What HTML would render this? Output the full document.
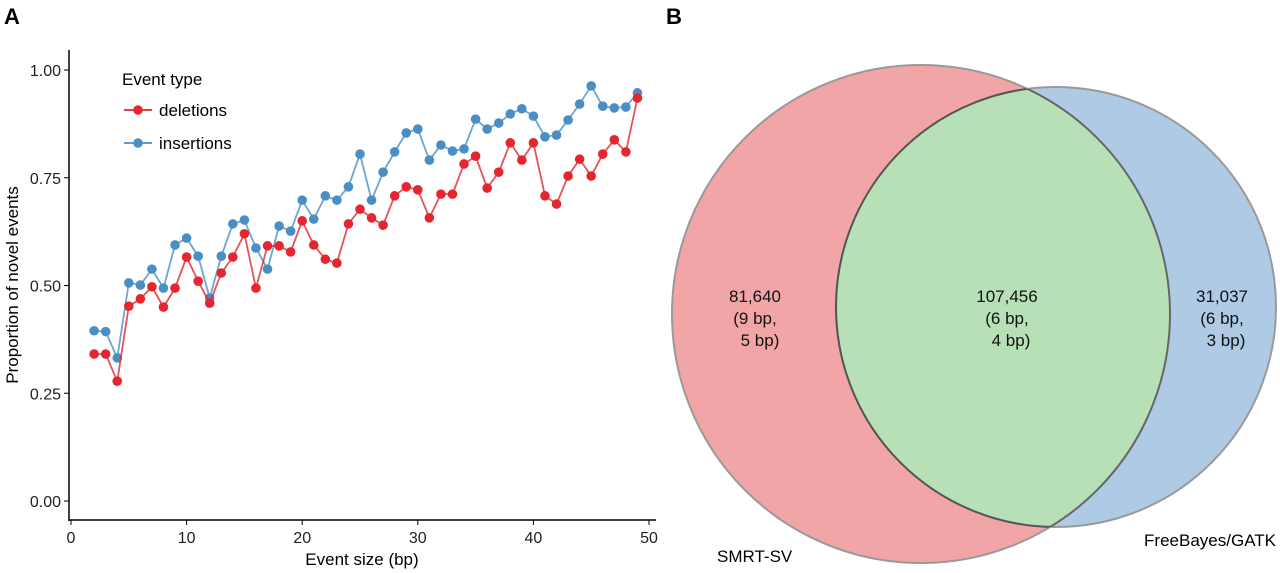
<!DOCTYPE html>
<html><head><meta charset="utf-8"><style>
body{margin:0;background:#fff;}
svg{display:block;font-family:"Liberation Sans",sans-serif;}
</style></head><body>
<svg width="1280" height="573" viewBox="0 0 1280 573">
<text x="4" y="24" font-size="22" font-weight="bold">A</text>
<text x="666" y="24" font-size="22" font-weight="bold">B</text>
<g id="chart"></g>
<g>
<defs><clipPath id="blueclip"><circle cx="1056" cy="307" r="220"/></clipPath>
<clipPath id="redclip"><circle cx="921" cy="314" r="249"/></clipPath></defs>
<circle cx="921" cy="314" r="249" fill="#f2a5a7" stroke="#999" stroke-width="2"/>
<circle cx="1056" cy="307" r="220" fill="#aecae5" stroke="#999" stroke-width="2"/>
<circle cx="921" cy="314" r="249" fill="#b7e0b7" clip-path="url(#blueclip)"/>
<circle cx="921" cy="314" r="249" fill="none" stroke="#666" stroke-width="2" clip-path="url(#blueclip)"/>
<circle cx="1056" cy="307" r="220" fill="none" stroke="#555" stroke-width="2" clip-path="url(#redclip)"/>
<g font-size="17" fill="#111" text-anchor="middle">
<text x="755" y="302"><tspan x="755">81,640</tspan><tspan x="755" dy="22">(9 bp,</tspan><tspan x="760" dy="22">5 bp)</tspan></text>
<text x="1007" y="302"><tspan x="1007">107,456</tspan><tspan x="1007" dy="22">(6 bp,</tspan><tspan x="1011" dy="22">4 bp)</tspan></text>
<text x="1222" y="302"><tspan x="1222">31,037</tspan><tspan x="1222" dy="22">(6 bp,</tspan><tspan x="1226" dy="22">3 bp)</tspan></text>
</g>
<text x="717" y="562" font-size="17">SMRT-SV</text>
<text x="1276" y="546" font-size="17" text-anchor="end">FreeBayes/GATK</text>
</g>
</svg>
<script>
const xs=[2,3,4,5,6,7,8,9,10,11,12,13,14,15,16,17,18,19,20,21,22,23,24,25,26,27,28,29,30,31,32,33,34,35,36,37,38,39,40,41,42,43,44,45,46,47,48,49];
const insertions=[.395,.393,.332,.506,.501,.538,.494,.594,.61,.568,.471,.568,.643,.652,.587,.538,.638,.626,.698,.654,.708,.698,.729,.805,.698,.763,.81,.854,.863,.791,.826,.812,.817,.886,.863,.877,.898,.91,.893,.845,.849,.884,.921,.963,.916,.912,.914,.947];
const deletions=[.341,.341,.278,.452,.469,.497,.45,.494,.566,.51,.459,.529,.566,.62,.494,.592,.592,.578,.65,.594,.561,.552,.643,.677,.657,.64,.708,.729,.722,.657,.712,.712,.782,.8,.726,.763,.831,.791,.831,.708,.689,.754,.793,.754,.805,.838,.81,.935];
const xTicks=[0,10,20,30,40,50];
const yTicks=[0,0.25,0.5,0.75,1.0];
const yTickLabels=["0.00","0.25","0.50","0.75","1.00"];
const NS="http://www.w3.org/2000/svg";
const g=document.getElementById('chart');
const X=v=>71+v*11.56, Y=v=>501-v*431;
function mk(t,a,p){const e=document.createElementNS(NS,t);for(const k in a)e.setAttribute(k,a[k]);(p||g).appendChild(e);return e;}
let ax=mk('line',{x1:69,y1:520,x2:656,y2:520,stroke:'#000','stroke-width':1.5});


let ay=mk('line',{x1:69,y1:50,x2:69,y2:521,stroke:'#000','stroke-width':1.5});


xTicks.forEach(v=>{mk('line',{x1:X(v),y1:520,x2:X(v),y2:525,stroke:'#000'});
const t=mk('text',{x:X(v),y:543,'font-size':16,'text-anchor':'middle',fill:'#222'});t.textContent=v;

});
yTicks.forEach((v,i)=>{mk('line',{x1:64,y1:Y(v),x2:69,y2:Y(v),stroke:'#000'});
const t=mk('text',{x:61,y:Y(v)+6,'font-size':16,'text-anchor':'end',fill:'#222'});t.textContent=yTickLabels[i];

});
let xt=mk('text',{x:362,y:565,'font-size':17,'text-anchor':'middle'});xt.textContent='Event size (bp)';


let yt=mk('text',{x:0,y:0,'font-size':17,'text-anchor':'middle',transform:'translate(18,285) rotate(-90)'});yt.textContent='Proportion of novel events';


function series(vals,col,name){
const pl=mk('polyline',{points:xs.map((x,i)=>X(x)+','+Y(vals[i])).join(' '),fill:'none',stroke:col,'stroke-width':1.8,opacity:0.8});


xs.forEach((x,i)=>{const c=mk('circle',{cx:X(x),cy:Y(vals[i]),r:4.8,fill:col});

});
}
series(insertions,'#4a8ec6','insertions');
series(deletions,'#e3262f','deletions');
let lt=mk('text',{x:122,y:85,'font-size':17});lt.textContent='Event type';


[['deletions','#e3262f',110],['insertions','#4a8ec6',143]].forEach(([n,c,y])=>{
const lg=mk('g',{});


mk('line',{x1:124,y1:y,x2:152,y2:y,stroke:c,'stroke-width':1.8},lg);
mk('circle',{cx:138,cy:y,r:4.8,fill:c},lg);
const t=mk('text',{x:159,y:y+6,'font-size':17},lg);t.textContent=n;});
</script>
</body></html>
